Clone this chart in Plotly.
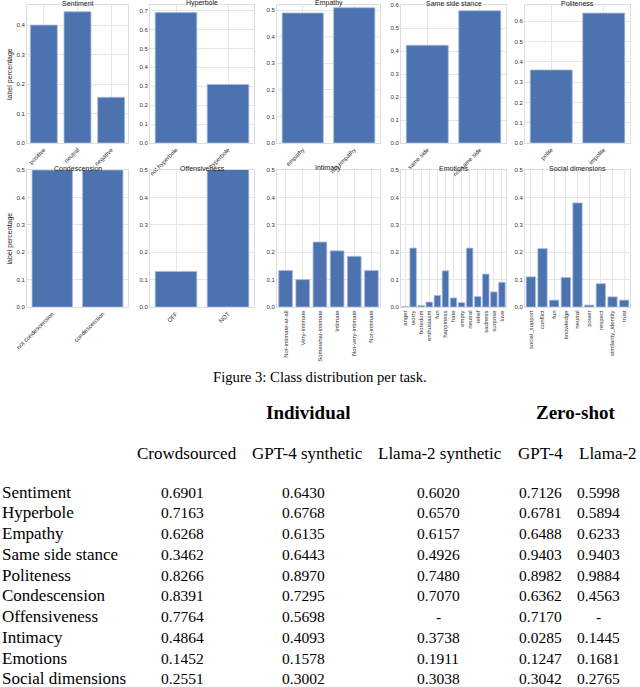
import plotly.graph_objects as go

W, H = 640, 687

# ---------------- data ----------------
sent_cats = ["positive", "neutral", "negative"]
sent_vals = [0.400, 0.445, 0.155]
hyp_cats = ["not hyperbole", "hyperbole"]
hyp_vals = [0.690, 0.310]
emp_cats = ["empathy", "not empathy"]
emp_vals = [0.490, 0.510]
stance_cats = ["same side", "not same side"]
stance_vals = [0.425, 0.575]
pol_cats = ["polite", "impolite"]
pol_vals = [0.360, 0.640]
cond_cats = ["not condescension", "condescension"]
cond_vals = [0.500, 0.500]
off_cats = ["OFF", "NOT"]
off_vals = [0.130, 0.870]
int_cats = ["Not-intimate-at-all", "Very-intimate", "Somewhat-intimate",
            "Intimate", "Not-very-intimate", "Not-intimate"]
int_vals = [0.133, 0.100, 0.237, 0.205, 0.185, 0.133]
emo_cats = ["anger", "worry", "boredom", "enthusiasm", "fun", "happiness",
            "hate", "empty", "neutral", "relief", "sadness", "surprise", "love"]
emo_vals = [0.002, 0.215, 0.005, 0.018, 0.042, 0.132, 0.033, 0.016, 0.215,
            0.038, 0.120, 0.055, 0.090]
soc_cats = ["social_support", "conflict", "fun", "knowledge", "neutral",
            "power", "respect", "similarity_identity", "trust"]
soc_vals = [0.110, 0.213, 0.025, 0.108, 0.380, 0.007, 0.085, 0.037, 0.025]

panel_titles = ["Sentiment", "Hyperbole", "Empathy", "Same side stance", "Politeness",
                "Condescension", "Offensiveness", "Intimacy", "Emotions", "Social dimensions"]
y_tops = [0.468, 0.73, 0.52, 0.60, 0.68, 0.5, 0.5, 0.5, 0.5, 0.5]

caption = "Figure 3: Class distribution per task."
group_headers = ["Individual", "Zero-shot"]
col_headers = ["Crowdsourced", "GPT-4 synthetic", "Llama-2 synthetic", "GPT-4", "Llama-2"]
tasks = ["Sentiment", "Hyperbole", "Empathy", "Same side stance", "Politeness",
         "Condescension", "Offensiveness", "Intimacy", "Emotions", "Social dimensions"]
crowdsourced = ["0.6901", "0.7163", "0.6268", "0.3462", "0.8266", "0.8391", "0.7764", "0.4864", "0.1452", "0.2551"]
gpt4_synth = ["0.6430", "0.6768", "0.6135", "0.6443", "0.8970", "0.7295", "0.5698", "0.4093", "0.1578", "0.3002"]
llama_synth = ["0.6020", "0.6570", "0.6157", "0.4926", "0.7480", "0.7070", "-", "0.3738", "0.1911", "0.3038"]
gpt4_zs = ["0.7126", "0.6781", "0.6488", "0.9403", "0.8982", "0.6362", "0.7170", "0.0285", "0.1247", "0.3042"]
llama_zs = ["0.5998", "0.5894", "0.6233", "0.9403", "0.9884", "0.4563", "-", "0.1445", "0.1681", "0.2765"]

panels = [(sent_cats, sent_vals), (hyp_cats, hyp_vals), (emp_cats, emp_vals),
          (stance_cats, stance_vals), (pol_cats, pol_vals), (cond_cats, cond_vals),
          (off_cats, off_vals), (int_cats, int_vals), (emo_cats, emo_vals), (soc_cats, soc_vals)]

# ---------------- layout geometry (pixels) ----------------
col_px = [(27, 128), (150, 254), (277, 380), (401, 506), (525, 630)]
row_px = [(5, 143), (170, 307)]

def fx(px):
    return px / W

def fy(py):
    return 1 - py / H

BAR = "#4c72b0"
GRID = "#e6e6e6"
SANS = "Liberation Sans, Arial, sans-serif"
TICKF = dict(family=SANS, size=6, color="#333333")

fig = go.Figure()
annotations = []
layout = {}

for i, (cats, vals) in enumerate(panels):
    r, c = divmod(i, 5)
    n = i + 1
    xa = "x" if n == 1 else f"x{n}"
    ya = "y" if n == 1 else f"y{n}"
    fig.add_trace(go.Bar(
        x=cats, y=vals, xaxis=xa, yaxis=ya,
        marker=dict(color=BAR, line=dict(color="#a9bbdc", width=0.8)),
        width=0.8, showlegend=False, hoverinfo="x+y"))
    x0, x1 = col_px[c]
    y0, y1 = row_px[r]
    many = len(cats) > 3
    layout["xaxis" if n == 1 else f"xaxis{n}"] = dict(
        domain=[fx(x0), fx(x1)], anchor=ya,
        tickangle=-90 if many else -45, tickfont=TICKF,
        showgrid=True, gridcolor=GRID, gridwidth=1,
        showline=True, linecolor="#dddddd", mirror=True,
        ticks="", fixedrange=True, automargin=False,
        range=[-0.5, len(cats) - 0.5])
    layout["yaxis" if n == 1 else f"yaxis{n}"] = dict(
        domain=[fy(y1), fy(y0)], anchor=xa,
        range=[0, y_tops[i]], dtick=0.1, tickformat=".1f", tickfont=TICKF,
        showgrid=True, gridcolor=GRID, gridwidth=1,
        showline=True, linecolor="#dddddd", mirror=True,
        zeroline=False, ticks="", fixedrange=True, automargin=False)
    annotations.append(dict(
        text=panel_titles[i], x=fx((x0 + x1) / 2), y=fy(y0 - 2),
        xref="paper", yref="paper", xanchor="center", yanchor="middle",
        showarrow=False, borderpad=0,
        font=dict(family=SANS, size=7, color="#222222")))
    if c == 0:
        annotations.append(dict(
            text="label percentage", x=fx(10), y=fy((y0 + y1) / 2),
            xref="paper", yref="paper", xanchor="center", yanchor="middle",
            textangle=-90, showarrow=False,
            font=dict(family=SANS, size=7, color="#222222")))

SERIF = "Liberation Serif, Times New Roman, serif"

annotations.append(dict(text=caption, x=fx(320), y=fy(377), xref="paper", yref="paper",
                        xanchor="center", yanchor="middle", showarrow=False,
                        font=dict(family=SERIF, size=14.7, color="#000000")))

grp_x = [308, 575]
for t, gx in zip(group_headers, grp_x):
    annotations.append(dict(text=f"<b>{t}</b>", x=fx(gx), y=fy(412), xref="paper", yref="paper",
                            xanchor="center", yanchor="middle", showarrow=False,
                            font=dict(family=SERIF, size=19, color="#000000")))

hdr_x = [187, 307, 440, 540, 608]
for t, hx in zip(col_headers, hdr_x):
    annotations.append(dict(text=t, x=fx(hx), y=fy(453), xref="paper", yref="paper",
                            xanchor="center", yanchor="middle", showarrow=False,
                            font=dict(family=SERIF, size=17, color="#000000")))

val_x = [182, 303, 438, 540, 598]
cols = [crowdsourced, gpt4_synth, llama_synth, gpt4_zs, llama_zs]
for k, task in enumerate(tasks):
    ry = 492 + k * 20.75
    annotations.append(dict(text=task, x=0, y=fy(ry), xref="paper", yref="paper",
                            xanchor="left", yanchor="middle", showarrow=False,
                            font=dict(family=SERIF, size=17, color="#000000")))
    for colv, vx in zip(cols, val_x):
        annotations.append(dict(text=colv[k], x=fx(vx), y=fy(ry), xref="paper", yref="paper",
                                xanchor="center", yanchor="middle", showarrow=False,
                                font=dict(family=SERIF, size=15.5, color="#000000")))

fig.update_layout(**layout)
fig.update_layout(
    width=W, height=H, margin=dict(l=0, r=0, t=0, b=0),
    paper_bgcolor="white", plot_bgcolor="white",
    annotations=annotations, bargap=0.2)

fig.write_html("out.html", config={"displayModeBar": False},
               post_script="document.body.style.margin='0';document.body.style.overflow='hidden';")
